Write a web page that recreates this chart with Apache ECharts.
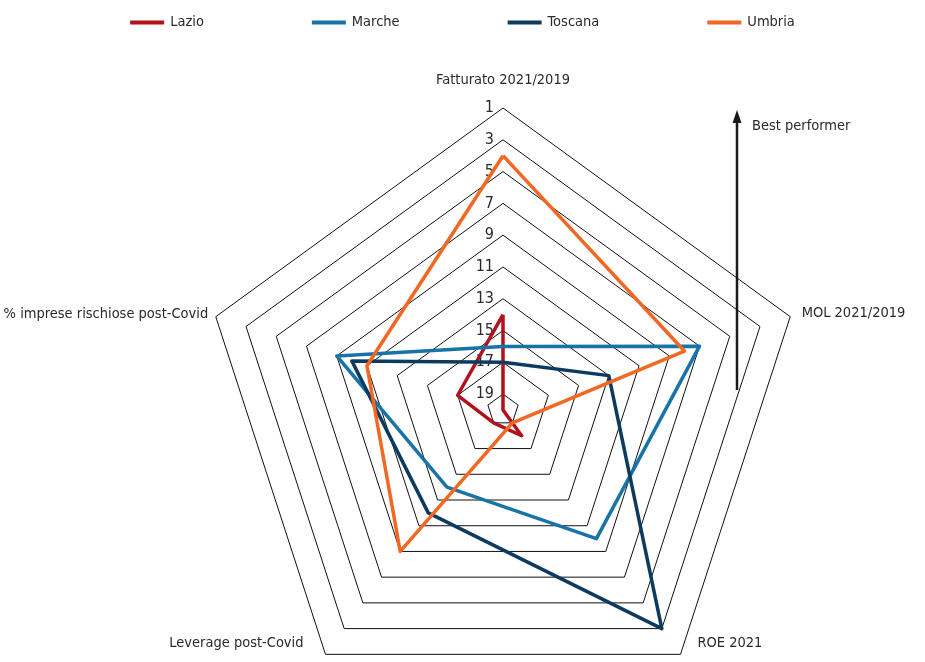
<!DOCTYPE html>
<html>
<head>
<meta charset="utf-8">
<script src="https://cdn.jsdelivr.net/npm/echarts@6/dist/echarts.min.js"></script>
<style>html,body{margin:0;padding:0;background:#fff}#c{width:925px;height:662px}</style>
</head>
<body>
<div id="c"></div>
<script>
// Indicators in counter-clockwise order starting at the top
const indicators = ['Fatturato 2021/2019', '% imprese rischiose post-Covid', 'Leverage post-Covid', 'ROE 2021', 'MOL 2021/2019'];
const regions = ['Lazio', 'Marche', 'Toscana', 'Umbria'];
// Ranks (1 = best performer, outer ring)
const lazio   = [14, 17, 19, 18, 20];
const marche  = [16,  9, 14, 10,  7];
const toscana = [17, 10, 12,  3, 13];
const umbria  = [ 4, 11,  9, 19,  8];
const ringLabels = [1, 3, 5, 7, 9, 11, 13, 15, 17, 19];
const RANK_CENTER = 20;

const FONT = "'DejaVu Sans Condensed', 'Liberation Sans Narrow', sans-serif";
const colors = ['#b2121b', '#1874a8', '#0d3b5f', '#f26722'];
const seriesData = [lazio, marche, toscana, umbria];
const toT = r => RANK_CENTER - r;

// name placement tweaks per indicator (layout only)
const nameAdj = [
  { nameGap: 17 },
  { nameGap: 8 },
  { nameGap: 0, lift: true, nameTextStyle: { padding: [0, 22, 0, 0] } },
  { nameGap: 0, lift: true, nameTextStyle: { padding: [0, 0, 0, 17] } },
  { nameGap: 12 }
];

const chart = echarts.init(document.getElementById('c'));
chart.setOption({
  animation: false,
  backgroundColor: '#fff',
  legend: {
    top: 10, left: 'center', itemGap: 108, itemWidth: 34, itemHeight: 4, icon: 'rect',
    textStyle: { fontSize: 14.5, fontFamily: FONT, color: '#2a2a2a', padding: [0, 0, 0, 1] },
    data: regions
  },
  radar: {
    center: [503, 410], radius: 302, startAngle: 90, shape: 'polygon', splitNumber: 19,
    axisName: {
      color: '#2a2a2a', fontSize: 14.5, fontFamily: FONT, lineHeight: 22,
      formatter: (name, ind) => ind.lift ? name + '\n ' : name
    },
    axisNameGap: 10,
    axisLine: { show: false }, axisTick: { show: false }, axisLabel: { show: false },
    splitLine: { lineStyle: { color: ['rgba(0,0,0,0)', '#111'], width: 1 } },
    splitArea: { show: false },
    indicator: indicators.map((name, i) => Object.assign({ name: name, min: 0, max: 19 }, nameAdj[i],
      i === 0 ? { axisLabel: { show: true, color: '#2a2a2a', fontSize: 16, fontFamily: FONT, margin: 9,
        padding: [0, 0, 5, 0],
        formatter: v => { const r = RANK_CENTER - Math.round(v); return ringLabels.indexOf(r) >= 0 ? String(r) : ''; } } } : {}))
  },
  graphic: [
    { type: 'line', shape: { x1: 737, y1: 390, x2: 737, y2: 120 }, style: { stroke: '#1a1a1a', lineWidth: 2.5 } },
    { type: 'polygon', shape: { points: [[737, 110], [732.5, 123], [741.5, 123]] }, style: { fill: '#1a1a1a' } },
    { type: 'text', x: 752, y: 126, style: { text: 'Best performer', fontSize: 14.5, fontFamily: FONT, fill: '#2a2a2a', verticalAlign: 'middle' } }
  ],
  series: regions.map((name, k) => ({
    type: 'radar', name: name, symbol: 'none', color: colors[k],
    lineStyle: { width: 3.5, color: colors[k] },
    data: [{ name: name, value: seriesData[k].map(toT) }]
  }))
});
</script>
</body>
</html>
